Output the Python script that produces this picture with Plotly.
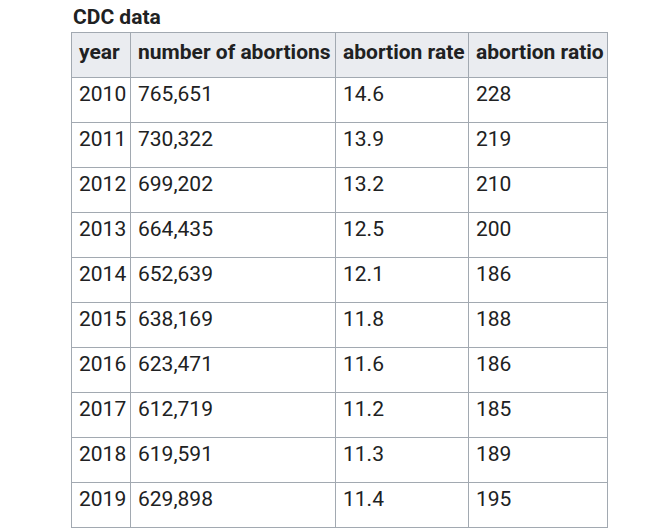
import plotly.graph_objects as go

years = ["2010", "2011", "2012", "2013", "2014", "2015", "2016", "2017", "2018", "2019"]
abortions = ["765,651", "730,322", "699,202", "664,435", "652,639",
             "638,169", "623,471", "612,719", "619,591", "629,898"]
rates = ["14.6", "13.9", "13.2", "12.5", "12.1", "11.8", "11.6", "11.2", "11.3", "11.4"]
ratios = ["228", "219", "210", "200", "186", "188", "186", "185", "189", "195"]
headers = ["year", "number of abortions", "abortion rate", "abortion ratio"]

W, H = 671, 530
off = 8  # default body margin of the html page
left, right, top = 71 - off, 607 - off, 32 - off

# non-breaking spaces so plotly does not wrap the header
hdr = ["<b>" + h.replace(" ", "\u00a0") + "</b>" for h in headers]

fig = go.Figure(go.Table(
    domain=dict(x=[left / W, right / W], y=[0, 1 - top / H]),
    columnwidth=[59, 205, 133, 139],
    header=dict(
        values=hdr,
        fill_color="#eaecf0",
        line=dict(color="#a2a9b1", width=1),
        font=dict(family="Roboto", size=21, color="#202122"),
        align="left",
        height=45,
    ),
    cells=dict(
        values=[years, abortions, rates, ratios],
        fill_color="white",
        line=dict(color="#a2a9b1", width=1),
        font=dict(family="Roboto", size=21, color="#202122"),
        align="left",
        height=45,
    ),
))

fig.add_annotation(
    text="<b>CDC data</b>", x=(71 - off) / W, y=1 - (17 - off) / H,
    xref="paper", yref="paper",
    xanchor="left", yanchor="middle", showarrow=False,
    font=dict(family="Roboto", size=21, color="#202122"),
)

fig.update_layout(width=W, height=H, margin=dict(l=0, r=0, t=0, b=0),
                  paper_bgcolor="white")

fig.write_html("out.html")
